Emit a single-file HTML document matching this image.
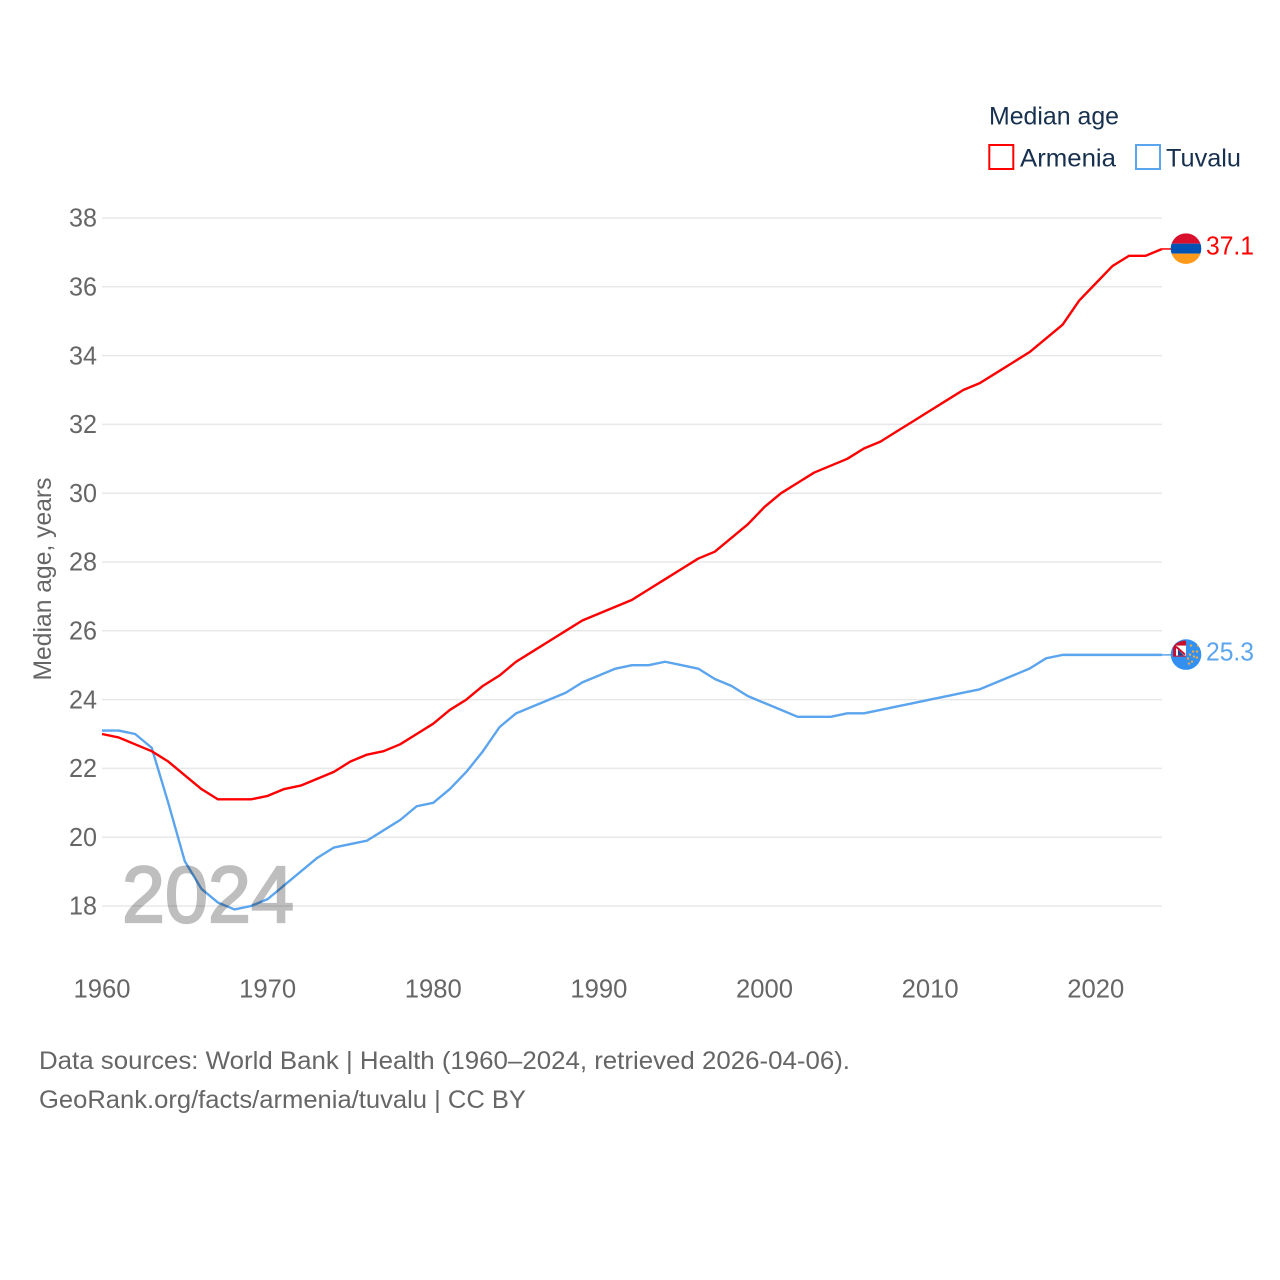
<!DOCTYPE html>
<html lang="en">
<head>
<meta charset="utf-8">
<title>Median age: Armenia and Tuvalu</title>
<style>
html,body{margin:0;padding:0;background:#fff;width:1280px;height:1280px;overflow:hidden}
svg{display:block}
text{font-family:"Liberation Sans",sans-serif}
</style>
</head>
<body>
<svg id="chart" xmlns="http://www.w3.org/2000/svg" width="1280" height="1280" viewBox="0 0 1280 1280">
  <defs>
    <clipPath id="flag-clip-am"><circle cx="0" cy="0" r="15.3"/></clipPath>
    <clipPath id="flag-clip-tv"><circle cx="0" cy="0" r="15.3"/></clipPath>
  </defs>
  <g id="grid"></g>
  <g id="yticks"></g>
  <g id="xticks"></g>
  <text transform="translate(51,579) rotate(-90)" text-anchor="middle" font-size="25" fill="#666" textLength="203" lengthAdjust="spacingAndGlyphs">Median age, years</text>
  <g id="series"></g>
  <text x="122" y="922" font-size="80" font-weight="normal" fill="#000" stroke="#000" stroke-width="2.2" opacity="0.25" textLength="172" lengthAdjust="spacingAndGlyphs">2024</text>

  <g id="flag-armenia">
    <g clip-path="url(#flag-clip-am)">
      <rect x="-16" y="-16" width="32" height="11" fill="#d90f2e"/>
      <rect x="-16" y="-5" width="32" height="10" fill="#0052b4"/>
      <rect x="-16" y="5" width="32" height="11" fill="#ff9a1c"/>
    </g>
  </g>
  <g id="flag-tuvalu">
    <g clip-path="url(#flag-clip-tv)">
      <rect x="-16" y="-16" width="32" height="32" fill="#3390f0"/>
      <path d="M-13 2 L-13-7 Q-11-12 -3-14 L0-14 L0 2Z" fill="#c8102e"/>
      <rect x="-10" y="-9" width="10" height="10" fill="#fff"/>
      <path d="M-10-8 L-1 0" stroke="#c8102e" stroke-width="2"/>
      <path d="M-8 1 L-2 1 L-8-5Z" fill="#1d3f91"/>
      <g fill="#f3a93d">
        <circle cx="5" cy="-9" r="1.2"/><circle cx="12" cy="-9" r="1.2"/>
        <circle cx="7" cy="-3" r="1.2"/><circle cx="11" cy="-3" r="1.2"/>
        <circle cx="4" cy="0" r="1.2"/><circle cx="8" cy="2" r="1.2"/>
        <circle cx="2" cy="4" r="1.2"/><circle cx="11" cy="3" r="1.2"/>
        <circle cx="3" cy="9" r="1.2"/><circle cx="6" cy="7" r="1.2"/>
      </g>
    </g>
  </g>
  <text id="value-armenia" x="1206" font-size="26" fill="#ff0000" textLength="48" lengthAdjust="spacingAndGlyphs">37.1</text>
  <text id="value-tuvalu" x="1206" font-size="26" fill="#5ba4ee" textLength="48" lengthAdjust="spacingAndGlyphs">25.3</text>

  <g>
    <text x="989" y="124.5" font-size="25" fill="#17304f" textLength="130" lengthAdjust="spacingAndGlyphs">Median age</text>
    <g>
      <rect x="989.3" y="145" width="24" height="24" fill="#fff" stroke="#ff0000" stroke-width="2"/>
      <text x="1020" y="166.5" font-size="25" fill="#17304f" textLength="96" lengthAdjust="spacingAndGlyphs">Armenia</text>
    </g>
    <g>
      <rect x="1136" y="145" width="24" height="24" fill="#fff" stroke="#5ba4ee" stroke-width="2"/>
      <text x="1166" y="166.5" font-size="25" fill="#17304f" textLength="75" lengthAdjust="spacingAndGlyphs">Tuvalu</text>
    </g>
  </g>

  <g>
    <text x="39" y="1069" font-size="25" fill="#666" textLength="811" lengthAdjust="spacingAndGlyphs">Data sources: World Bank | Health (1960–2024, retrieved 2026-04-06).</text>
    <text x="39" y="1108" font-size="25" fill="#666" textLength="487" lengthAdjust="spacingAndGlyphs">GeoRank.org/facts/armenia/tuvalu | CC BY</text>
  </g>
</svg>
<script>
const startYear = 1960;
const yTickLabels = [18, 20, 22, 24, 26, 28, 30, 32, 34, 36, 38];
const xTickLabels = [1960, 1970, 1980, 1990, 2000, 2010, 2020];
const armeniaValues = [23.0,22.9,22.7,22.5,22.2,21.8,21.4,21.1,21.1,21.1,
  21.2,21.4,21.5,21.7,21.9,22.2,22.4,22.5,22.7,23.0,
  23.3,23.7,24.0,24.4,24.7,25.1,25.4,25.7,26.0,26.3,
  26.5,26.7,26.9,27.2,27.5,27.8,28.1,28.3,28.7,29.1,
  29.6,30.0,30.3,30.6,30.8,31.0,31.3,31.5,31.8,32.1,
  32.4,32.7,33.0,33.2,33.5,33.8,34.1,34.5,34.9,35.6,
  36.1,36.6,36.9,36.9,37.1];
const tuvaluValues = [23.1,23.1,23.0,22.6,21.0,19.3,18.5,18.1,17.9,18.0,
  18.2,18.6,19.0,19.4,19.7,19.8,19.9,20.2,20.5,20.9,
  21.0,21.4,21.9,22.5,23.2,23.6,23.8,24.0,24.2,24.5,
  24.7,24.9,25.0,25.0,25.1,25.0,24.9,24.6,24.4,24.1,
  23.9,23.7,23.5,23.5,23.5,23.6,23.6,23.7,23.8,23.9,
  24.0,24.1,24.2,24.3,24.5,24.7,24.9,25.2,25.3,25.3,
  25.3,25.3,25.3,25.3,25.3];

const NS = 'http://www.w3.org/2000/svg';
function xScale(year) { return 102 + (year - 1960) * (1162 - 102) / 64; }
function yScale(v) { return 906 - (v - 18) * (906 - 218) / 20; }

const gridG = document.getElementById('grid');
const yG = document.getElementById('yticks');
const xG = document.getElementById('xticks');
const seriesG = document.getElementById('series');

yTickLabels.forEach(function (t) {
  const line = document.createElementNS(NS, 'line');
  
  
  line.setAttribute('x1', xScale(1960));
  line.setAttribute('x2', xScale(2024));
  line.setAttribute('y1', yScale(t));
  line.setAttribute('y2', yScale(t));
  line.setAttribute('stroke', '#e8e8e8');
  line.setAttribute('stroke-width', '1.5');
  gridG.appendChild(line);
  const label = document.createElementNS(NS, 'text');
  
  
  label.setAttribute('x', 97);
  label.setAttribute('y', yScale(t) + 8.7);
  label.setAttribute('text-anchor', 'end');
  label.setAttribute('font-size', '25.5');
  label.setAttribute('fill', '#666');
  label.setAttribute('textLength', '28');
  label.setAttribute('lengthAdjust', 'spacingAndGlyphs');
  label.textContent = String(t);
  yG.appendChild(label);
});

xTickLabels.forEach(function (t) {
  const label = document.createElementNS(NS, 'text');
  
  
  label.setAttribute('x', xScale(t));
  label.setAttribute('y', 997.5);
  label.setAttribute('text-anchor', 'middle');
  label.setAttribute('font-size', '25.5');
  label.setAttribute('fill', '#666');
  label.setAttribute('textLength', '57');
  label.setAttribute('lengthAdjust', 'spacingAndGlyphs');
  label.textContent = String(t);
  xG.appendChild(label);
});

function drawSeries(values, color, name) {
  const pts = values.map(function (v, i) {
    return xScale(startYear + i).toFixed(2) + ',' + yScale(v).toFixed(2);
  });
  const line = document.createElementNS(NS, 'polyline');
  
  
  line.setAttribute('points', pts.join(' '));
  line.setAttribute('fill', 'none');
  line.setAttribute('stroke', color);
  line.setAttribute('stroke-width', '2.4');
  line.setAttribute('stroke-linejoin', 'round');
  seriesG.appendChild(line);
  const last = yScale(values[values.length - 1]);
  const tail = document.createElementNS(NS, 'line');
  
  
  tail.setAttribute('x1', xScale(2024));
  tail.setAttribute('x2', xScale(2024) + 10);
  tail.setAttribute('y1', last);
  tail.setAttribute('y2', last);
  tail.setAttribute('stroke', color);
  tail.setAttribute('stroke-width', '1.5');
  seriesG.appendChild(tail);
}
drawSeries(tuvaluValues, '#5ba4ee', 'tuvalu');
drawSeries(armeniaValues, '#ff0000', 'armenia');

function placeEnd(values, flagId, valueId) {
  const v = values[values.length - 1];
  const y = yScale(v);
  document.getElementById(flagId).setAttribute('transform', 'translate(1186,' + (y - 0.3) + ')');
  const t = document.getElementById(valueId);
  t.setAttribute('y', y + 5.5);
  t.textContent = v.toFixed(1);
}
placeEnd(armeniaValues, 'flag-armenia', 'value-armenia');
placeEnd(tuvaluValues, 'flag-tuvalu', 'value-tuvalu');
</script>
</body>
</html>
